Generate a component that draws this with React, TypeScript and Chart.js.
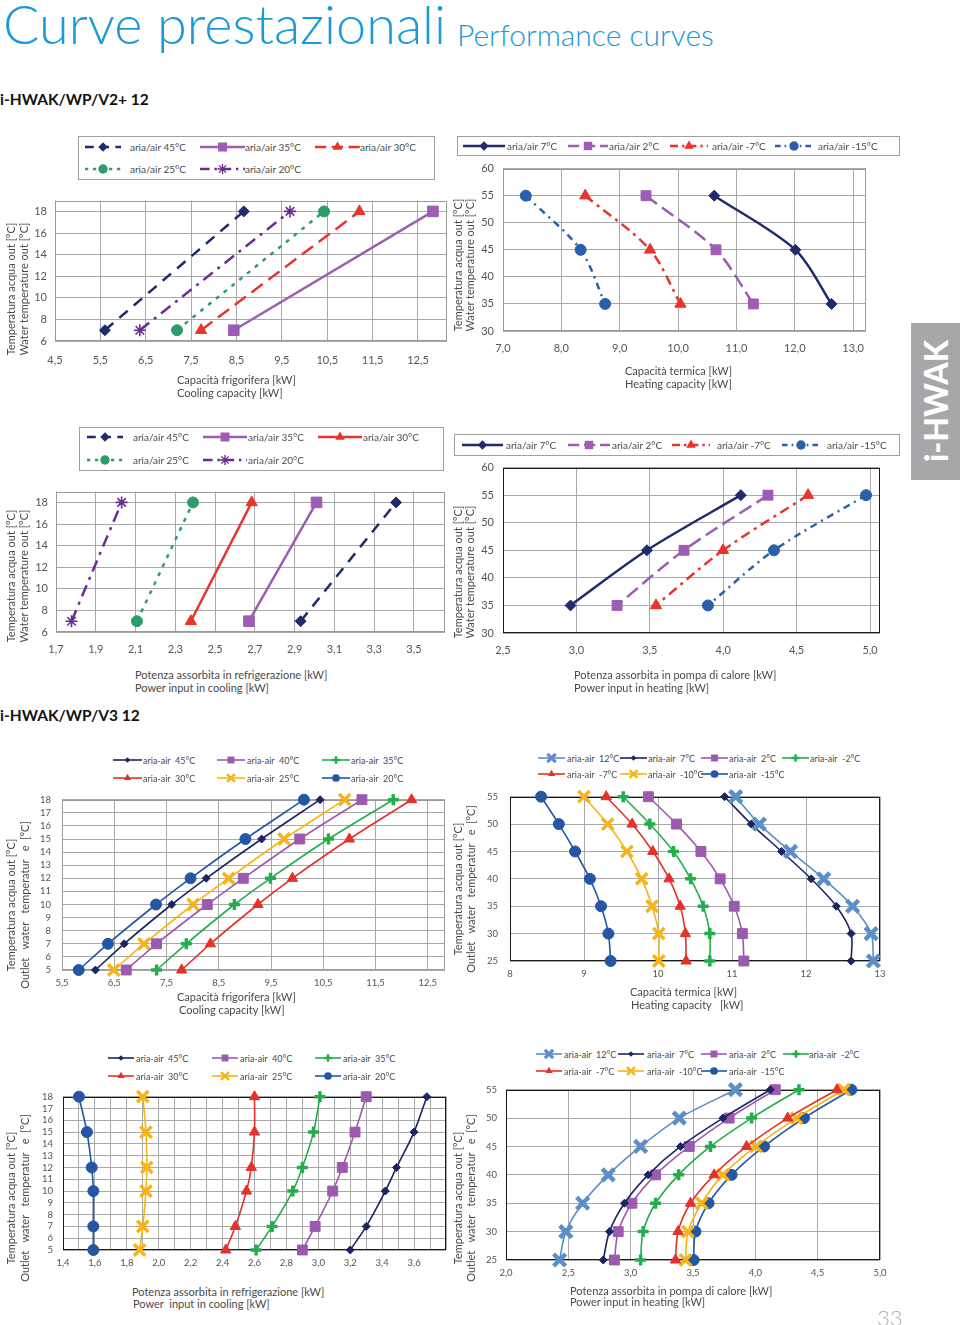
import React, { useEffect, useRef } from 'react';
import { Chart, registerables } from 'chart.js';

Chart.register(...registerables);

const FONT = 'Lato, "Open Sans", "DejaVu Sans", sans-serif';

// ---------------- DATA ----------------
// V2+ 12 : cooling (outlet water 7 / 18 °C)
const V2_COOL_T = [7, 18];
const V2_COOL_NAMES = ['aria/air 45°C', 'aria/air 35°C', 'aria/air 30°C', 'aria/air 25°C', 'aria/air 20°C'];
const V2_CAP_45 = [5.6, 8.66];
const V2_CAP_35 = [8.44, 12.83];
const V2_CAP_30 = [7.72, 11.21];
const V2_CAP_25 = [7.19, 10.43];
const V2_CAP_20 = [6.37, 9.68];
const V2_PC_45 = [2.93, 3.41];
const V2_PC_35 = [2.67, 3.01];
const V2_PC_30 = [2.378, 2.684];
const V2_PC_25 = [2.107, 2.389];
const V2_PC_20 = [1.778, 2.03];

// V2+ 12 : heating (outlet water 55 / 45 / 35 °C)
const V2_HEAT_T = [55, 45, 35];
const V2_HEAT_NAMES = ['aria/air 7°C', 'aria/air 2°C', 'aria/air -7°C', 'aria/air -15°C'];
const V2_HCAP_7 = [10.62, 12.01, 12.63];
const V2_HCAP_2 = [9.45, 10.65, 11.29];
const V2_HCAP_M7 = [8.41, 9.52, 10.04];
const V2_HCAP_M15 = [7.39, 8.33, 8.75];
const V2_PH_7 = [4.12, 3.48, 2.96];
const V2_PH_2 = [4.305, 3.733, 3.277];
const V2_PH_M7 = [4.578, 3.999, 3.542];
const V2_PH_M15 = [4.973, 4.346, 3.896];

// V3 12 : cooling (outlet water 5..18 °C)
const V3_COOL_T = [5, 7, 10, 12, 15, 18];
const V3_COOL_NAMES = ['aria-air  45°C', 'aria-air  40°C', 'aria-air  35°C', 'aria-air  30°C', 'aria-air  25°C', 'aria-air  20°C'];
const V3_CAP_45 = [6.14, 6.69, 7.6, 8.26, 9.32, 10.44];
const V3_CAP_40 = [6.73, 7.31, 8.28, 8.97, 10.05, 11.24];
const V3_CAP_35 = [7.31, 7.88, 8.8, 9.49, 10.6, 11.84];
const V3_CAP_30 = [7.79, 8.34, 9.25, 9.91, 11.0, 12.19];
const V3_CAP_25 = [6.49, 7.07, 8.01, 8.69, 9.75, 10.91];
const V3_CAP_20 = [5.82, 6.38, 7.3, 7.96, 9.01, 10.13];
const V3_PC_45 = [3.2, 3.3, 3.42, 3.49, 3.6, 3.68];
const V3_PC_40 = [2.9, 2.98, 3.09, 3.15, 3.23, 3.3];
const V3_PC_35 = [2.61, 2.71, 2.84, 2.9, 2.97, 3.01];
const V3_PC_30 = [2.42, 2.48, 2.55, 2.58, 2.6, 2.6];
const V3_PC_25 = [1.88, 1.9, 1.92, 1.925, 1.92, 1.9];
const V3_PC_20 = [1.59, 1.59, 1.59, 1.58, 1.55, 1.5];

// V3 12 : heating (outlet water 55..25 °C)
const V3_HEAT_T = [55, 50, 45, 40, 35, 30, 25];
const V3_HEAT_NAMES = ['aria-air  12°C', 'aria-air  7°C', 'aria-air  2°C', 'aria-air  -2°C', 'aria-air  -7°C', 'aria-air  -10°C', 'aria-air  -15°C'];
const V3_HCAP_12 = [11.05, 11.37, 11.79, 12.24, 12.63, 12.88, 12.91];
const V3_HCAP_7 = [10.9, 11.26, 11.67, 12.07, 12.41, 12.61, 12.61];
const V3_HCAP_2 = [9.87, 10.25, 10.58, 10.84, 11.03, 11.14, 11.16];
const V3_HCAP_M2 = [9.53, 9.89, 10.21, 10.44, 10.61, 10.7, 10.7];
const V3_HCAP_M7 = [9.3, 9.65, 9.93, 10.15, 10.3, 10.37, 10.38];
const V3_HCAP_M10 = [9.0, 9.32, 9.58, 9.78, 9.92, 10.01, 10.01];
const V3_HCAP_M15 = [8.42, 8.66, 8.88, 9.08, 9.23, 9.33, 9.36];
const V3_PH_12 = [3.84, 3.39, 3.08, 2.82, 2.615, 2.48, 2.43];
const V3_PH_7 = [4.12, 3.74, 3.4, 3.14, 2.95, 2.83, 2.78];
const V3_PH_2 = [4.16, 3.79, 3.47, 3.2, 3.01, 2.9, 2.87];
const V3_PH_M2 = [4.35, 3.97, 3.64, 3.385, 3.2, 3.1, 3.08];
const V3_PH_M7 = [4.655, 4.26, 3.93, 3.67, 3.48, 3.38, 3.36];
const V3_PH_M10 = [4.71, 4.33, 4.005, 3.74, 3.57, 3.46, 3.44];
const V3_PH_M15 = [4.77, 4.39, 4.07, 3.81, 3.625, 3.52, 3.505];

// ticks
const C1_X_TICKS = [4.5, 5.5, 6.5, 7.5, 8.5, 9.5, 10.5, 11.5, 12.5];
const C13_Y_TICKS = [6, 8, 10, 12, 14, 16, 18];
const C2_X_TICKS = [7, 8, 9, 10, 11, 12, 13];
const C24_Y_TICKS = [30, 35, 40, 45, 50, 55, 60];
const C3_X_TICKS = [1.7, 1.9, 2.1, 2.3, 2.5, 2.7, 2.9, 3.1, 3.3, 3.5];
const C4_X_TICKS = [2.5, 3.0, 3.5, 4.0, 4.5, 5.0];
const C5_X_TICKS = [5.5, 6.5, 7.5, 8.5, 9.5, 10.5, 11.5, 12.5];
const C57_Y_TICKS = [5, 6, 7, 8, 9, 10, 11, 12, 13, 14, 15, 16, 17, 18];
const C6_X_TICKS = [8, 9, 10, 11, 12, 13];
const C68_Y_TICKS = [25, 30, 35, 40, 45, 50, 55];
const C7_X_TICKS = [1.4, 1.5, 1.6, 1.7, 1.8, 1.9, 2.0, 2.1, 2.2, 2.3, 2.4, 2.5, 2.6, 2.7, 2.8, 2.9, 3.0, 3.1, 3.2, 3.3, 3.4, 3.5, 3.6, 3.7, 3.8];
const C8_X_TICKS = [2.0, 2.5, 3.0, 3.5, 4.0, 4.5, 5.0];

// ---------------- STYLES ----------------
type Sty = { color: string; dash: number[]; width: number; point: string; radius: number; pbw: number };

const NAVY = '#1f2b6b';
const LILAC = '#9d5db4';
const RED = '#e7352e';
const GREEN = '#2f9c6d';
const DPURPLE = '#6b2d8f';
const BLUE = '#2a5fab';
const V_NAVY = '#1c2561';
const V_PURPLE = '#9c5aaf';
const V_GREEN = '#23ad4b';
const V_RED = '#e4312a';
const V_YELLOW = '#f7b417';
const V_BLUE = '#2456a4';
const V_STEEL = '#5b8fc8';

const GRID = '#a9a9a9';
const GREY_BORDER = '#9a9a9a';
const DARK_BORDER = '#1a1a1a';
const TICK_COLOR = '#555555';
const TEXT_COLOR = '#4a4a4a';

const S2_45: Sty = { color: NAVY, dash: [11, 8], width: 2.5, point: 'rectRot', radius: 5.5, pbw: 1 };
const S2_35: Sty = { color: LILAC, dash: [], width: 2.5, point: 'rect', radius: 7.5, pbw: 1 };
const S2_30D: Sty = { color: RED, dash: [14, 7], width: 2.5, point: 'triangle', radius: 6.5, pbw: 1 };
const S2_30S: Sty = { color: RED, dash: [], width: 2.5, point: 'triangle', radius: 6.5, pbw: 1 };
const S2_25: Sty = { color: GREEN, dash: [4, 6], width: 2.5, point: 'circle', radius: 5.5, pbw: 1 };
const S2_20: Sty = { color: DPURPLE, dash: [12, 6, 3, 6], width: 2.5, point: 'star', radius: 6, pbw: 1.6 };

const H2_7: Sty = { color: NAVY, dash: [], width: 2.5, point: 'rectRot', radius: 5.5, pbw: 1 };
const H2_2: Sty = { color: LILAC, dash: [14, 6], width: 2.5, point: 'rect', radius: 7, pbw: 1 };
const H2_M7: Sty = { color: RED, dash: [10, 5, 3, 5], width: 2.5, point: 'triangle', radius: 6.5, pbw: 1 };
const H2_M15: Sty = { color: BLUE, dash: [7, 5, 2, 5], width: 2.5, point: 'circle', radius: 5.5, pbw: 1 };

const V3_S45: Sty = { color: V_NAVY, dash: [], width: 1.6, point: 'rectRot', radius: 4, pbw: 1 };
const V3_S40: Sty = { color: V_PURPLE, dash: [], width: 1.6, point: 'rect', radius: 7, pbw: 1 };
const V3_S35: Sty = { color: V_GREEN, dash: [], width: 1.6, point: 'cross', radius: 5.5, pbw: 3.5 };
const V3_S30: Sty = { color: V_RED, dash: [], width: 1.6, point: 'triangle', radius: 6, pbw: 1 };
const V3_S25: Sty = { color: V_YELLOW, dash: [], width: 1.6, point: 'crossRot', radius: 8, pbw: 3.5 };
const V3_S20: Sty = { color: V_BLUE, dash: [], width: 1.6, point: 'circle', radius: 5.5, pbw: 1 };
const V3_S12: Sty = { color: V_STEEL, dash: [], width: 1.6, point: 'crossRot', radius: 8.5, pbw: 4.5 };

// ---------------- CHART SPECS ----------------
type Series = { label: string; xs: number[]; ys: number[]; st: Sty };
type PlotSpec = {
  L: number; T: number; R: number; B: number;
  xMin: number; xMax: number; yMin: number; yMax: number;
  xTicks: number[]; yTicks: number[];
  xFmt: (v: number) => string;
  fontSize: number; xPad: number; yPad: number;
  grid: string; border: string; tension: number;
  series: Series[];
};

const fmt1 = (v: number) => v.toFixed(1).replace('.', ',');
const fmt0 = (v: number) => String(Math.round(v));
const fmtEven = (v: number) => {
  const k = Math.round(v * 10);
  return k % 2 === 0 && k <= 36 ? (k / 10).toFixed(1).replace('.', ',') : '';
};

const mk = (names: string[], xs: number[][], ys: number[], sts: Sty[]): Series[] =>
  names.map((n, i) => ({ label: n, xs: xs[i], ys, st: sts[i] }));

const V2_COOL_STY1 = [S2_45, S2_35, S2_30D, S2_25, S2_20];
const V2_COOL_STY3 = [S2_45, S2_35, S2_30S, S2_25, S2_20];
const V2_HEAT_STY = [H2_7, H2_2, H2_M7, H2_M15];
const V3_COOL_STY = [V3_S45, V3_S40, V3_S35, V3_S30, V3_S25, V3_S20];
const V3_HEAT_STY = [V3_S12, V3_S45, V3_S40, V3_S35, V3_S30, V3_S25, V3_S20];

const CHARTS: PlotSpec[] = [
  {
    L: 55, T: 200, R: 447, B: 341, xMin: 4.5, xMax: 13.14, yMin: 6, yMax: 19,
    xTicks: C1_X_TICKS, yTicks: C13_Y_TICKS, xFmt: fmt1, fontSize: 11, xPad: 13, yPad: 8,
    grid: GRID, border: GREY_BORDER, tension: 0,
    series: mk(V2_COOL_NAMES, [V2_CAP_45, V2_CAP_35, V2_CAP_30, V2_CAP_25, V2_CAP_20], V2_COOL_T, V2_COOL_STY1),
  },
  {
    L: 503, T: 167, R: 866, B: 331, xMin: 7, xMax: 13.22, yMin: 30, yMax: 60,
    xTicks: C2_X_TICKS, yTicks: C24_Y_TICKS, xFmt: fmt1, fontSize: 11, xPad: 11, yPad: 9,
    grid: GRID, border: GREY_BORDER, tension: 0.3,
    series: mk(V2_HEAT_NAMES, [V2_HCAP_7, V2_HCAP_2, V2_HCAP_M7, V2_HCAP_M15], V2_HEAT_T, V2_HEAT_STY),
  },
  {
    L: 56, T: 491, R: 445, B: 632, xMin: 1.7, xMax: 3.656, yMin: 6, yMax: 19,
    xTicks: C3_X_TICKS, yTicks: C13_Y_TICKS, xFmt: fmt1, fontSize: 11, xPad: 11, yPad: 8,
    grid: GRID, border: GREY_BORDER, tension: 0,
    series: mk(V2_COOL_NAMES, [V2_PC_45, V2_PC_35, V2_PC_30, V2_PC_25, V2_PC_20], V2_COOL_T, V2_COOL_STY3),
  },
  {
    L: 503, T: 466, R: 880, B: 633, xMin: 2.5, xMax: 5.068, yMin: 30, yMax: 60,
    xTicks: C4_X_TICKS, yTicks: C24_Y_TICKS, xFmt: fmt1, fontSize: 11, xPad: 11, yPad: 9,
    grid: GRID, border: DARK_BORDER, tension: 0.3,
    series: mk(V2_HEAT_NAMES, [V2_PH_7, V2_PH_2, V2_PH_M7, V2_PH_M15], V2_HEAT_T, V2_HEAT_STY),
  },
  {
    L: 62, T: 797, R: 445, B: 970, xMin: 5.5, xMax: 12.83, yMin: 5, yMax: 18,
    xTicks: C5_X_TICKS, yTicks: C57_Y_TICKS, xFmt: fmt1, fontSize: 9.5, xPad: 7, yPad: 11,
    grid: GRID, border: GREY_BORDER, tension: 0.3,
    series: mk(V3_COOL_NAMES, [V3_CAP_45, V3_CAP_40, V3_CAP_35, V3_CAP_30, V3_CAP_25, V3_CAP_20], V3_COOL_T, V3_COOL_STY),
  },
  {
    L: 510, T: 793, R: 880, B: 961, xMin: 8, xMax: 13, yMin: 25, yMax: 55,
    xTicks: C6_X_TICKS, yTicks: C68_Y_TICKS, xFmt: fmt0, fontSize: 9.5, xPad: 7, yPad: 12,
    grid: GRID, border: DARK_BORDER, tension: 0.3,
    series: mk(V3_HEAT_NAMES, [V3_HCAP_12, V3_HCAP_7, V3_HCAP_2, V3_HCAP_M2, V3_HCAP_M7, V3_HCAP_M10, V3_HCAP_M15], V3_HEAT_T, V3_HEAT_STY),
  },
  {
    L: 63, T: 1095, R: 446, B: 1250, xMin: 1.4, xMax: 3.8, yMin: 5, yMax: 18,
    xTicks: C7_X_TICKS, yTicks: C57_Y_TICKS, xFmt: fmtEven, fontSize: 9.5, xPad: 7, yPad: 10,
    grid: GRID, border: DARK_BORDER, tension: 0.3,
    series: mk(V3_COOL_NAMES, [V3_PC_45, V3_PC_40, V3_PC_35, V3_PC_30, V3_PC_25, V3_PC_20], V3_COOL_T, V3_COOL_STY),
  },
  {
    L: 506, T: 1089, R: 880, B: 1260, xMin: 2, xMax: 5, yMin: 25, yMax: 55,
    xTicks: C8_X_TICKS, yTicks: C68_Y_TICKS, xFmt: fmt1, fontSize: 9.5, xPad: 7, yPad: 9,
    grid: GRID, border: DARK_BORDER, tension: 0.3,
    series: mk(V3_HEAT_NAMES, [V3_PH_12, V3_PH_7, V3_PH_2, V3_PH_M2, V3_PH_M7, V3_PH_M10, V3_PH_M15], V3_HEAT_T, V3_HEAT_STY),
  },
];

// ---------------- LEGENDS ----------------
type Col = [number, number, number]; // sample x, sample width, text x
type LegendSpec = { box?: [number, number, number, number]; rows: number[]; cols: Col[]; names: string[]; sts: Sty[]; fs: number; ms: number };

const LEGENDS: LegendSpec[] = [
  { box: [78, 136, 357, 44], rows: [147, 169], cols: [[85, 36, 130], [200, 45, 245], [315, 45, 360]], names: V2_COOL_NAMES, sts: V2_COOL_STY1, fs: 10, ms: 0.85 },
  { box: [457, 136, 443, 20], rows: [146], cols: [[463, 42, 507], [568, 40, 609], [670, 38, 712], [775, 38, 818]], names: V2_HEAT_NAMES, sts: V2_HEAT_STY, fs: 10, ms: 0.85 },
  { box: [79, 427, 365, 44], rows: [437, 460], cols: [[87, 36, 133], [203, 44, 248], [318, 44, 363]], names: V2_COOL_NAMES, sts: V2_COOL_STY3, fs: 10, ms: 0.85 },
  { box: [454, 434, 446, 22], rows: [445], cols: [[462, 41, 506], [568, 42, 612], [672, 38, 717], [782, 38, 827]], names: V2_HEAT_NAMES, sts: V2_HEAT_STY, fs: 10, ms: 0.85 },
  { rows: [760, 778], cols: [[113, 29, 143], [217, 28, 247], [322, 28, 351]], names: V3_COOL_NAMES, sts: V3_COOL_STY, fs: 9, ms: 0.7 },
  { rows: [758, 774], cols: [[538, 27, 567], [620, 27, 648], [701, 27, 729], [782, 27, 810]], names: V3_HEAT_NAMES, sts: V3_HEAT_STY, fs: 9, ms: 0.7 },
  { rows: [1058, 1076], cols: [[108, 26, 136], [212, 26, 240], [315, 26, 343]], names: V3_COOL_NAMES, sts: V3_COOL_STY, fs: 9, ms: 0.7 },
  { rows: [1054, 1071], cols: [[536, 26, 564], [618, 26, 647], [701, 26, 729], [783, 26, 809]], names: V3_HEAT_NAMES, sts: V3_HEAT_STY, fs: 9, ms: 0.7 },
];

// ---------------- AXIS TITLES ----------------
const X_TITLES: [number, number, string][] = [
  [177, 379, 'Capacità frigorifera [kW]'], [177, 392, 'Cooling capacity [kW]'],
  [625, 370, 'Capacità termica [kW]'], [625, 383, 'Heating capacity [kW]'],
  [135, 674, 'Potenza assorbita in refrigerazione [kW]'], [135, 687, 'Power input in cooling [kW]'],
  [574, 674, 'Potenza assorbita in pompa di calore [kW]'], [574, 687, 'Power input in heating [kW]'],
  [177, 996, 'Capacità frigorifera [kW]'], [179, 1009, 'Cooling capacity [kW]'],
  [630, 991, 'Capacità termica [kW]'], [631, 1004, 'Heating capacity   [kW]'],
  [132, 1291, 'Potenza assorbita in refrigerazione [kW]'], [133, 1303, 'Power  input in cooling [kW]'],
  [570, 1290, 'Potenza assorbita in pompa di calore [kW]'], [570, 1301, 'Power input in heating [kW]'],
];
const Y1 = 'Temperatura acqua out [°C]';
const Y2 = 'Water temperature out [°C]';
const Y3 = 'Outlet   water   temperatur   e  [°C]';
const Y_TITLES: [number, number, string][] = [
  [10, 289, Y1], [23, 289, Y2], [457, 265, Y1], [469, 265, Y2],
  [10, 576, Y1], [23, 576, Y2], [457, 572, Y1], [469, 572, Y2],
  [10, 905, Y1], [24, 905, Y3], [457, 889, Y1], [470, 889, Y3],
  [10, 1198, Y1], [24, 1198, Y3], [457, 1198, Y1], [470, 1198, Y3],
];

// ---------------- PLUGIN ----------------
const plotBorder = {
  id: 'plotBorder',
  beforeDatasetsDraw(chart: any, _a: any, opts: any) {
    const { left, top, right, bottom } = chart.chartArea;
    const ctx = chart.ctx;
    ctx.save();
    ctx.strokeStyle = opts.color || '#999';
    ctx.lineWidth = 1;
    const l = Math.round(left) + 0.5, t = Math.round(top) + 0.5;
    const r = Math.round(right) - 0.5, b = Math.round(bottom) - 0.5;
    ctx.strokeRect(l, t, r - l, b - t);
    ctx.restore();
  },
};
Chart.register(plotBorder as any);

const YW = 60, XH = 32, PT = 14, PR = 26;

function PlotCanvas({ spec }: { spec: PlotSpec }) {
  const ref = useRef<HTMLCanvasElement>(null);
  const w = spec.R - spec.L + YW + PR;
  const h = spec.B - spec.T + PT + XH;
  useEffect(() => {
    const s = spec;
    const font = { family: FONT, size: s.fontSize };
    const chart = new Chart(ref.current as HTMLCanvasElement, {
      type: 'line',
      data: {
        datasets: s.series.map((se) => ({
          label: se.label,
          data: se.xs.map((x, i) => ({ x, y: se.ys[i] })),
          borderColor: se.st.color,
          backgroundColor: se.st.color,
          borderWidth: se.st.width,
          borderDash: se.st.dash,
          pointStyle: se.st.point as any,
          pointRadius: se.st.radius,
          pointHoverRadius: se.st.radius,
          pointBorderWidth: se.st.pbw,
          pointBackgroundColor: se.st.color,
          pointBorderColor: se.st.color,
          tension: s.tension,
          fill: false,
          clip: false as any,
        })),
      },
      options: {
        animation: false,
        responsive: false,
        devicePixelRatio: 1,
        events: [],
        layout: { padding: { top: PT, right: PR, left: 0, bottom: 0 } },
        plugins: {
          legend: { display: false },
          tooltip: { enabled: false },
          plotBorder: { color: s.border },
        } as any,
        scales: {
          x: {
            type: 'linear',
            min: s.xMin,
            max: s.xMax,
            afterBuildTicks: (sc: any) => { sc.ticks = s.xTicks.map((v) => ({ value: v })); },
            afterFit: (sc: any) => { sc.height = XH; },
            grid: { color: s.grid, lineWidth: 1, drawTicks: false },
            border: { display: false },
            ticks: {
              autoSkip: false, maxRotation: 0, padding: s.xPad, color: TICK_COLOR, font,
              callback: (v: any) => s.xFmt(Number(v)),
            },
          },
          y: {
            type: 'linear',
            min: s.yMin,
            max: s.yMax,
            afterBuildTicks: (sc: any) => { sc.ticks = s.yTicks.map((v) => ({ value: v })); },
            afterFit: (sc: any) => { sc.width = YW; },
            grid: { color: s.grid, lineWidth: 1, drawTicks: false },
            border: { display: false },
            ticks: {
              autoSkip: false, padding: s.yPad, color: TICK_COLOR, font,
              callback: (v: any) => fmt0(Number(v)),
            },
          },
        },
      } as any,
    });
    return () => chart.destroy();
  }, []);
  return (
    <canvas
      ref={ref}
      width={w}
      height={h}
      style={{ position: 'absolute', left: spec.L - YW, top: spec.T - PT, width: w, height: h }}
    />
  );
}

function Marker({ st, cx, cy, k }: { st: Sty; cx: number; cy: number; k: number }) {
  const r = st.radius * k, c = st.color, sw = st.pbw * (st.pbw > 1.5 ? k : 1);
  const d = r * Math.SQRT1_2;
  switch (st.point) {
    case 'circle':
      return <circle cx={cx} cy={cy} r={r} fill={c} />;
    case 'rect':
      return <rect x={cx - d} y={cy - d} width={2 * d} height={2 * d} fill={c} />;
    case 'rectRot':
      return <polygon points={`${cx},${cy - r} ${cx + r},${cy} ${cx},${cy + r} ${cx - r},${cy}`} fill={c} />;
    case 'triangle':
      return <polygon points={`${cx},${cy - r} ${cx + 0.866 * r},${cy + 0.5 * r} ${cx - 0.866 * r},${cy + 0.5 * r}`} fill={c} />;
    case 'cross':
      return <path d={`M${cx - r} ${cy}H${cx + r}M${cx} ${cy - r}V${cy + r}`} stroke={c} strokeWidth={sw} />;
    case 'crossRot':
      return <path d={`M${cx - d} ${cy - d}L${cx + d} ${cy + d}M${cx - d} ${cy + d}L${cx + d} ${cy - d}`} stroke={c} strokeWidth={sw} />;
    case 'star':
      return (
        <path
          d={`M${cx - r} ${cy}H${cx + r}M${cx} ${cy - r}V${cy + r}M${cx - d} ${cy - d}L${cx + d} ${cy + d}M${cx - d} ${cy + d}L${cx + d} ${cy - d}`}
          stroke={c}
          strokeWidth={sw}
        />
      );
  }
  return null;
}

function Txt({ x, y, text, size, color, weight, anchor, family }: { x: number; y: number; text: string; size: number; color?: string; weight?: number; anchor?: string; family?: string }) {
  const tx = anchor === 'middle' ? '-50%' : anchor === 'end' ? '-100%' : '0';
  return (
    <div
      style={{
        position: 'absolute', left: x, top: y, transform: `translate(${tx}, -50%)`,
        fontSize: size, lineHeight: 1, whiteSpace: 'pre', color: color || TEXT_COLOR,
        fontWeight: weight || 400, fontFamily: family || FONT,
      }}
    >
      {text}
    </div>
  );
}

function VTxt({ x, y, text, size }: { x: number; y: number; text: string; size: number }) {
  return (
    <div
      style={{
        position: 'absolute', left: x, top: y, transform: 'translate(-50%, -50%) rotate(-90deg)',
        fontSize: size, lineHeight: 1, whiteSpace: 'pre', color: TEXT_COLOR, fontFamily: FONT,
      }}
    >
      {text}
    </div>
  );
}

function Legend({ spec }: { spec: LegendSpec }) {
  const nc = spec.cols.length;
  return (
    <>
      {spec.box && (
        <div
          style={{
            position: 'absolute', left: spec.box[0], top: spec.box[1], width: spec.box[2], height: spec.box[3],
            border: '1px solid #a0a0a0', boxSizing: 'border-box',
          }}
        />
      )}
      {spec.names.map((n, i) => {
        const col = spec.cols[i % nc];
        const y = spec.rows[Math.floor(i / nc)];
        const st = spec.sts[i];
        return (
          <React.Fragment key={i}>
            <svg
              width={col[1]}
              height={20}
              style={{ position: 'absolute', left: col[0], top: y - 10, overflow: 'visible' }}
            >
              <line
                x1={0} y1={10} x2={col[1]} y2={10}
                stroke={st.color}
                strokeWidth={st.width}
                strokeDasharray={st.dash.length ? st.dash.map((v) => v * 0.8).join(' ') : undefined}
              />
              <Marker st={st} cx={col[1] / 2} cy={10} k={spec.ms} />
            </svg>
            <Txt x={col[2]} y={y} text={n} size={spec.fs} />
          </React.Fragment>
        );
      })}
    </>
  );
}

export default function App() {
  return (
    <div
      style={{
        position: 'absolute', left: 0, top: 0, width: 960, height: 1325, overflow: 'hidden',
        background: '#ffffff', fontFamily: FONT,
      }}
    >
      <Txt x={3} y={24} text="Curve prestazionali" size={54} color="#1a9ad6" weight={300} />
      <Txt x={457} y={34} text="Performance curves" size={30} color="#1a9ad6" weight={300} />
      <Txt x={0} y={100} text="i-HWAK/WP/V2+ 12" size={15.5} color="#111" weight={700} />
      <Txt x={0} y={716} text="i-HWAK/WP/V3 12" size={15.5} color="#111" weight={700} />

      <div style={{ position: 'absolute', left: 911, top: 323, width: 49, height: 157, background: '#a7a7a9' }} />
      <div
        style={{
          position: 'absolute', left: 936, top: 401, transform: 'translate(-50%, -50%) rotate(-90deg)',
          fontSize: 32, fontWeight: 900, color: '#ffffff', lineHeight: 1, whiteSpace: 'pre', fontFamily: FONT,
        }}
      >
        i-HWAK
      </div>
      <Txt x={877} y={1318} text="33" size={22} color="#b0b0b0" weight={300} />

      {CHARTS.map((c, i) => (
        <PlotCanvas key={i} spec={c} />
      ))}
      {LEGENDS.map((l, i) => (
        <Legend key={i} spec={l} />
      ))}
      {X_TITLES.map((t, i) => (
        <Txt key={i} x={t[0]} y={t[1]} text={t[2]} size={11} />
      ))}
      {Y_TITLES.map((t, i) => (
        <VTxt key={i} x={t[0]} y={t[1]} text={t[2]} size={11} />
      ))}
    </div>
  );
}
